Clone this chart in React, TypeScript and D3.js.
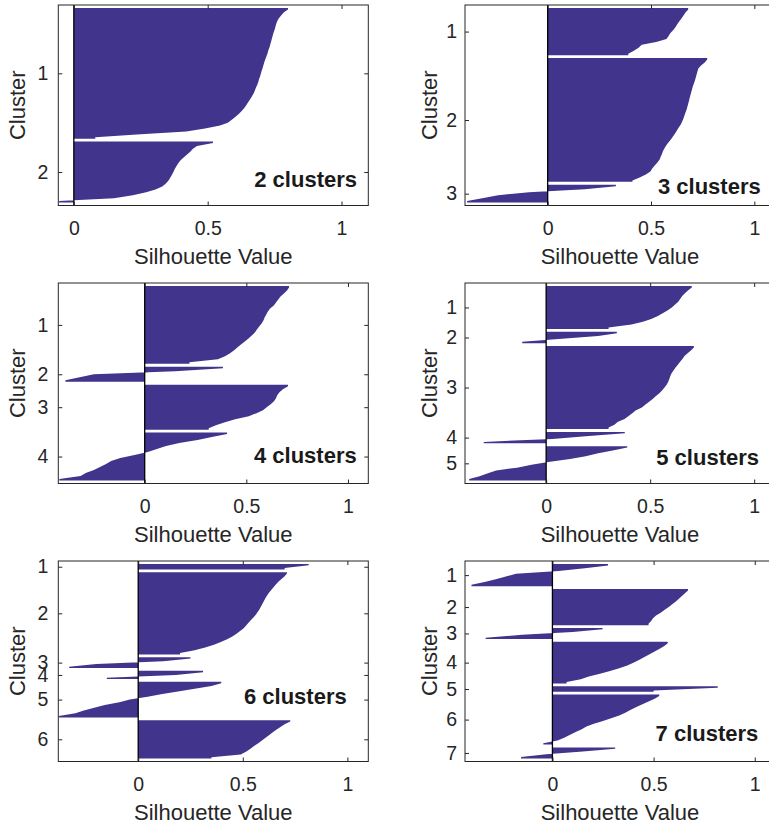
import React, { useEffect, useRef } from "react";
import * as d3 from "d3";

// silhouette values per cluster, sorted high to low
const sil2 = [
  [0.8, 0.785, 0.775, 0.766, 0.76, 0.756, 0.753, 0.75, 0.746, 0.743, 0.74, 0.737, 0.734, 0.731, 0.727,
    0.724, 0.72, 0.716, 0.712, 0.709, 0.706, 0.702, 0.699, 0.696, 0.692, 0.689, 0.685, 0.68, 0.676, 0.671,
    0.665, 0.658, 0.651, 0.644, 0.636, 0.627, 0.616, 0.604, 0.59, 0.575, 0.546, 0.49, 0.42, 0.25, 0.08],
  [0.52, 0.46, 0.445, 0.435, 0.423, 0.41, 0.398, 0.39, 0.383, 0.377, 0.372, 0.366, 0.36, 0.353, 0.343,
    0.33, 0.305, 0.27, 0.22, 0.15, -0.055],
];

const sil3 = [
  [0.68, 0.667, 0.658, 0.648, 0.637, 0.627, 0.618, 0.608, 0.594, 0.585, 0.575, 0.525, 0.455, 0.44, 0.417, 0.39],
  [0.772, 0.76, 0.742, 0.729, 0.725, 0.721, 0.717, 0.713, 0.708, 0.703, 0.699, 0.695, 0.691, 0.687, 0.684,
    0.68, 0.676, 0.672, 0.667, 0.662, 0.657, 0.651, 0.644, 0.635, 0.626, 0.617, 0.607, 0.597, 0.586, 0.575,
    0.566, 0.558, 0.553, 0.547, 0.541, 0.53, 0.517, 0.506, 0.497, 0.475, 0.445, 0.41],
  [0.33, 0.18, -0.09, -0.24, -0.31, -0.39],
];

const sil4 = [
  [0.71, 0.7, 0.685, 0.668, 0.657, 0.646, 0.635, 0.617, 0.606, 0.598, 0.59, 0.584, 0.575, 0.563, 0.552,
    0.542, 0.528, 0.512, 0.494, 0.475, 0.457, 0.44, 0.42, 0.395, 0.36, 0.22],
  [0.385, 0.15, -0.25, -0.32, -0.39],
  [0.705, 0.68, 0.663, 0.652, 0.646, 0.636, 0.62, 0.6, 0.582, 0.55, 0.512, 0.445, 0.395, 0.35, 0.315],
  [0.405, 0.33, 0.26, 0.17, 0.105, 0.06, 0.015, -0.05, -0.12, -0.165, -0.19, -0.22, -0.25, -0.29, -0.315, -0.42],
];

const sil5 = [
  [0.7, 0.683, 0.667, 0.654, 0.645, 0.635, 0.62, 0.604, 0.585, 0.56, 0.537, 0.505, 0.465, 0.41, 0.3],
  [0.34, 0.25, 0.06, -0.115],
  [0.71, 0.697, 0.68, 0.665, 0.655, 0.644, 0.633, 0.622, 0.612, 0.603, 0.597, 0.592, 0.587, 0.579, 0.569,
    0.557, 0.544, 0.528, 0.512, 0.495, 0.476, 0.46, 0.43, 0.414, 0.395, 0.377, 0.345, 0.328, 0.3],
  [0.378, 0.19, 0.03, -0.3],
  [0.39, 0.32, 0.25, 0.19, 0.115, 0.01, -0.07, -0.14, -0.24, -0.28, -0.32, -0.37],
];

const sil6 = [
  [0.815, 0.7],
  [0.711, 0.7, 0.685, 0.67, 0.658, 0.647, 0.636, 0.625, 0.616, 0.608, 0.601, 0.594, 0.587, 0.58, 0.571,
    0.562, 0.551, 0.538, 0.526, 0.515, 0.503, 0.487, 0.47, 0.45, 0.425, 0.395, 0.362, 0.32, 0.27, 0.2],
  [0.25, 0.12, -0.2, -0.33],
  [0.31, 0.18, -0.15],
  [0.397, 0.35, 0.27, 0.19, 0.115, 0.045, -0.04, -0.09, -0.16, -0.21, -0.26, -0.3, -0.38],
  [0.727, 0.7, 0.68, 0.66, 0.642, 0.625, 0.607, 0.59, 0.572, 0.552, 0.535, 0.515, 0.49, 0.35],
];

const sil7 = [
  [0.275, 0.16, 0.03, -0.18, -0.23, -0.28, -0.335, -0.4],
  [0.67, 0.655, 0.64, 0.625, 0.61, 0.592, 0.575, 0.555, 0.535, 0.512, 0.497, 0.488, 0.475],
  [0.248, 0.1, -0.15, -0.33],
  [0.57, 0.553, 0.53, 0.505, 0.48, 0.455, 0.43, 0.4, 0.37, 0.33, 0.285, 0.235, 0.18, 0.14, 0.07],
  [0.817, 0.5],
  [0.528, 0.505, 0.475, 0.445, 0.415, 0.385, 0.36, 0.33, 0.29, 0.25, 0.205, 0.168, 0.145, 0.115, 0.085,
    0.058, 0.025, -0.045],
  [0.31, 0.15, -0.03, -0.155],
];

const panels = [sil2, sil3, sil4, sil5, sil6, sil7];
const panelTitles = ["2 clusters", "3 clusters", "4 clusters", "5 clusters", "6 clusters", "7 clusters"];
const xTicks = [0, 0.5, 1];
const xMins = [-0.058, -0.4, -0.425, -0.39, -0.382, -0.432];
const X_MAX = 1.1;

// layout
const W = 769, H = 826;
const colX = [58.3, 465];
const rowY = [5, 283, 561];
const boxW = 310, boxH = 200.5;
const yLabelX = [25, 436.7];
const titleAt = [[357, 186.7], [760.7, 194], [356.7, 463.3], [759, 465], [346.7, 704], [758.3, 740.7]];

const BAR = "#40348d";
const AXIS = "#262626";
const FONT = "'Liberation Sans', Arial, Helvetica, sans-serif";

export default function App() {
  const ref = useRef<SVGSVGElement>(null);

  useEffect(() => {
    const svg = d3.select(ref.current);
    svg.selectAll("*").remove();

    panels.forEach((clusters, p) => {
      const col = p % 2;
      const row = Math.floor(p / 2);
      const g = svg.append("g").attr("transform", `translate(${colX[col]},${rowY[row]})`);

      const x = d3.scaleLinear().domain([xMins[p], X_MAX]).range([0, boxW]);

      // stack the clusters top to bottom, one empty slot between them
      let pos = 0;
      const laid = clusters.map((vals, c) => {
        const start = pos;
        pos += vals.length + 1;
        return { id: c + 1, vals, start };
      });
      const total = pos - 1;
      const y = d3.scaleLinear().domain([0, total]).range([3, boxH - 3]);

      const clipId = `clip-${p}`;
      g.append("clipPath").attr("id", clipId)
        .append("rect").attr("width", boxW).attr("height", boxH);

      const area = d3.area<[number, number]>()
        .y(d => y(d[0]))
        .x0(x(0))
        .x1(d => x(d[1]));

      const body = g.append("g").attr("clip-path", `url(#${clipId})`);
      laid.forEach(cl => {
        const n = cl.vals.length;
        const pts: [number, number][] = [[cl.start, cl.vals[0]]];
        cl.vals.forEach((v, i) => pts.push([cl.start + i + 0.5, v]));
        pts.push([cl.start + n, cl.vals[n - 1]]);
        body.append("path").attr("d", area(pts)).attr("fill", BAR);
      });

      // zero line
      g.append("line")
        .attr("x1", x(0)).attr("x2", x(0))
        .attr("y1", 0).attr("y2", boxH)
        .attr("stroke", "#000").attr("stroke-width", 1.3);

      const centers = laid.map(cl => y(cl.start + cl.vals.length / 2));
      const yTickScale = d3.scaleOrdinal<number, number>()
        .domain(laid.map(cl => cl.id)).range(centers);

      // axes (ticks pointing in)
      const bottom = g.append("g").attr("transform", `translate(0,${boxH})`)
        .call(d3.axisBottom(x).tickValues(xTicks).tickFormat(d3.format("")).tickSizeInner(-4).tickSizeOuter(0).tickPadding(16));
      g.append("g")
        .call(d3.axisTop(x).tickValues(xTicks).tickFormat(() => "").tickSizeInner(-4).tickSizeOuter(0));
      const left = g.append("g")
        .call(d3.axisLeft(yTickScale as any).tickSizeInner(-4).tickSizeOuter(0).tickPadding(col === 0 ? 10 : 8));
      g.append("g").attr("transform", `translate(${boxW},0)`)
        .call(d3.axisRight(yTickScale as any).tickFormat(() => "").tickSizeInner(-4).tickSizeOuter(0));

      g.selectAll(".domain").remove();
      g.selectAll(".tick line").attr("stroke", AXIS);
      [bottom, left].forEach(a => {
        a.attr("font-family", FONT).attr("font-size", 19.5);
        a.selectAll("text").attr("fill", AXIS);
      });

      g.append("rect")
        .attr("width", boxW).attr("height", boxH)
        .attr("fill", "none").attr("stroke", AXIS).attr("stroke-width", 1);

      // labels
      svg.append("text")
        .attr("x", colX[col] + boxW / 2)
        .attr("y", rowY[row] + boxH + 58)
        .attr("text-anchor", "middle")
        .attr("font-family", FONT).attr("font-size", 22)
        .attr("fill", AXIS)
        .text("Silhouette Value");

      svg.append("text")
        .attr("transform", `translate(${yLabelX[col]},${rowY[row] + boxH / 2}) rotate(-90)`)
        .attr("text-anchor", "middle")
        .attr("font-family", FONT).attr("font-size", 22)
        .attr("fill", AXIS)
        .text("Cluster");

      svg.append("text")
        .attr("x", titleAt[p][0]).attr("y", titleAt[p][1])
        .attr("text-anchor", "end")
        .attr("font-family", FONT).attr("font-size", 22).attr("font-weight", "bold")
        .attr("fill", "#1a1a1a")
        .text(panelTitles[p]);
    });
  }, []);

  return (
    <svg ref={ref} width={W} height={H}
      style={{ position: "absolute", left: 0, top: 0, background: "#fff" }} />
  );
}
